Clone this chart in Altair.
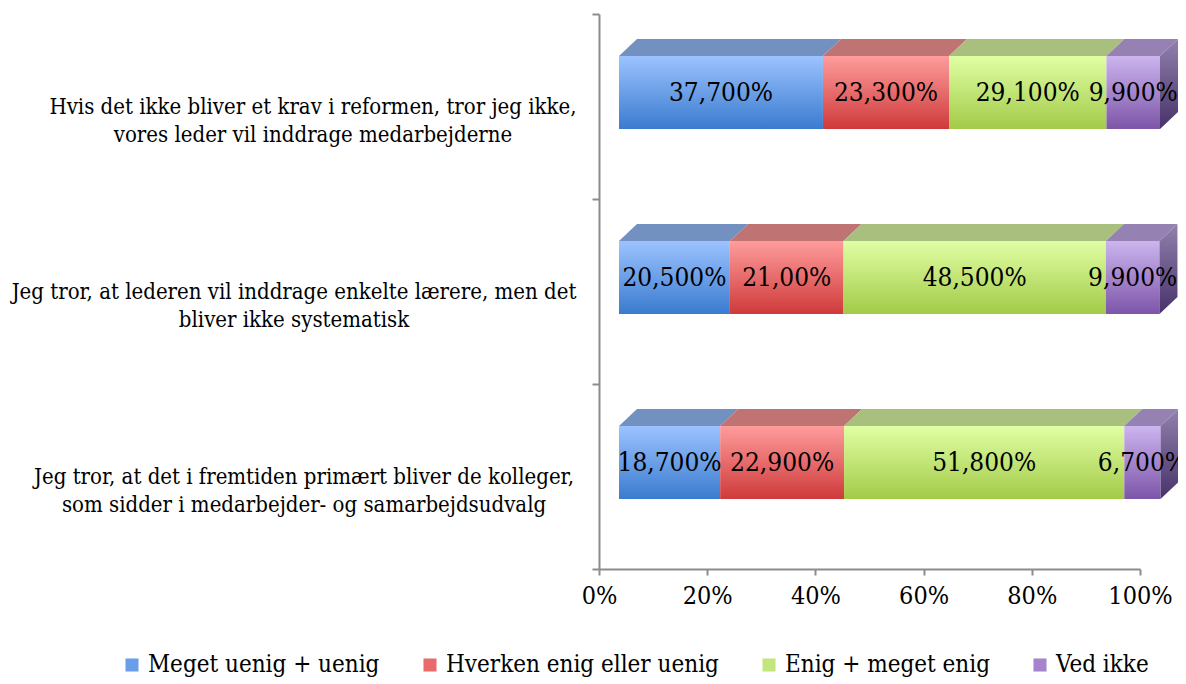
import altair as alt
import pandas as pd

# ---------------- data ----------------
questions = [
    "Hvis det ikke bliver et krav i reformen, tror jeg ikke,\nvores leder vil inddrage medarbejderne",
    "Jeg tror, at lederen vil inddrage enkelte lærere, men det\nbliver ikke systematisk",
    "Jeg tror, at det i fremtiden primært bliver de kolleger,\nsom sidder i medarbejder- og samarbejdsudvalg",
]
series = ["Meget uenig + uenig", "Hverken enig eller uenig", "Enig + meget enig", "Ved ikke"]
meget_uenig = [37.7, 20.5, 18.7]
hverken = [23.3, 21.0, 22.9]
enig = [29.1, 48.5, 51.8]
ved_ikke = [9.9, 9.9, 6.7]
lab_meget_uenig = ["37,700%", "20,500%", "18,700%"]
lab_hverken = ["23,300%", "21,00%", "22,900%"]
lab_enig = ["29,100%", "48,500%", "51,800%"]
lab_ved_ikke = ["9,900%", "9,900%", "6,700%"]
x_ticks = [0, 20, 40, 60, 80, 100]

# ---------------- style / layout ----------------
FONT = "DejaVu Serif Condensed, DejaVu Serif, serif"
W, H = 541, 555
front_top = ["#9cc3ff", "#ff9c9c", "#e0ffa4", "#ccb5ef"]
front_bot = ["#3a7bcf", "#cf3a3a", "#a3ca48", "#7d55a9"]
top_cols = ["#7391c0", "#c07373", "#a8bf7d", "#9582b2"]
legend_cols = ["#6a9ee8", "#e86a6a", "#c2e67c", "#a584cd"]
side_top, side_bot = "#9280ae", "#47336a"
label_centers = [-286, -305, -295]  # px, relative to plot left

SHIFT_X, SHIFT_Y = 20, 14      # front face offset (px)
FACE_H = 73                    # front face height (px)
DX, DY = 18, 17                # 3D depth (px)
px_x = 100 / W
px_y = 3 / H

vals = [meget_uenig, hverken, enig, ved_ikke]
labs = [lab_meget_uenig, lab_hverken, lab_enig, lab_ved_ikke]

front_rows, top_rows, side_rows, text_rows = [], [], [], []
n = len(questions)
for i in range(n):
    c = n - i - 0.5
    yb = c - FACE_H / 2 * px_y + SHIFT_Y * px_y
    yt = c + FACE_H / 2 * px_y + SHIFT_Y * px_y
    cum = 0.0
    for k, s in enumerate(series):
        v = vals[k][i]
        x0 = cum + SHIFT_X * px_x
        x1 = cum + v + SHIFT_X * px_x
        front_rows.append(dict(series=s, x0=x0, x1=x1, yb=yb, yt=yt))
        seg = f"{i}-{k}"
        dx, dy = DX * px_x, DY * px_y
        for (xx, ya, yb2) in [(x0, yt, yt), (x0 + dx, yt + dy, yt), (x1, yt + dy, yt), (x1 + dx, yt + dy, yt + dy)]:
            top_rows.append(dict(seg=seg, x=xx, y=ya, y2=yb2, col=top_cols[k]))
        if k == len(series) - 1:
            for (xx, ya, yb2) in [(x1, yt, yb), (x1 + dx, yt + dy, yb + dy)]:
                side_rows.append(dict(seg=seg, x=xx, y=ya, y2=yb2))
        text_rows.append(dict(x=(x0 + x1) / 2, y=(yb + yt) / 2, label=labs[k][i]))
        cum += v

front_df = pd.DataFrame(front_rows)
top_df = pd.DataFrame(top_rows)
side_df = pd.DataFrame(side_rows)
text_df = pd.DataFrame(text_rows)


def grad(top, bot):
    return {"gradient": "linear", "x1": 0, "y1": 0, "x2": 0, "y2": 1,
            "stops": [{"offset": 0, "color": top}, {"offset": 1, "color": bot}]}


xs = alt.Scale(domain=[0, 100], nice=False, zero=False)
ys = alt.Scale(domain=[0, 3], nice=False, zero=False)
x_axis = alt.Axis(values=x_ticks, labelExpr="datum.value + '%'", title=None, grid=False,
                  domainColor="#8c8c8c", domainWidth=2, tickColor="#8c8c8c", tickWidth=2,
                  tickSize=6, labelFont=FONT, labelFontSize=25, labelColor="black",
                  labelPadding=8, labelFlush=False)
y_axis = alt.Axis(values=[0, 1, 2, 3], labels=False, title=None, grid=False,
                  domainColor="#8c8c8c", domainWidth=2, tickColor="#8c8c8c", tickWidth=2,
                  tickSize=7)

layers = []
for k, s in enumerate(series):
    layers.append(
        alt.Chart(front_df[front_df.series == s]).mark_rect(fill=grad(front_top[k], front_bot[k]), clip=False)
        .encode(x=alt.X("x0:Q", scale=xs, axis=x_axis), x2="x1:Q",
                y=alt.Y("yb:Q", scale=ys, axis=y_axis), y2="yt:Q")
    )

layers.append(
    alt.Chart(top_df).mark_area(orient="vertical", clip=False)
    .encode(x=alt.X("x:Q", scale=xs, axis=x_axis), y=alt.Y("y:Q", scale=ys, axis=y_axis), y2="y2:Q",
            detail="seg:N", fill=alt.Fill("col:N", scale=None))
)
layers.append(
    alt.Chart(side_df).mark_area(orient="vertical", clip=False, fill=grad(side_top, side_bot))
    .encode(x=alt.X("x:Q", scale=xs, axis=x_axis), y=alt.Y("y:Q", scale=ys, axis=y_axis), y2="y2:Q",
            detail="seg:N")
)
layers.append(
    alt.Chart(text_df).mark_text(font=FONT, fontSize=26, color="black", align="center", baseline="middle", clip=False)
    .encode(x=alt.X("x:Q", scale=xs, axis=x_axis), y=alt.Y("y:Q", scale=ys, axis=y_axis), text="label:N")
)
for i, q in enumerate(questions):
    qdf = pd.DataFrame({"q": [q], "c": [n - i - 0.5]})
    layers.append(
        alt.Chart(qdf).mark_text(font=FONT, fontSize=22, color="black", align="center", baseline="middle",
                                 lineBreak="\n", lineHeight=28)
        .encode(x=alt.value(label_centers[i]), y=alt.Y("c:Q", scale=ys, axis=y_axis), text="q:N")
    )

legend_df = pd.DataFrame({"series": series, "x": [0] * 4, "y": [0] * 4})
layers.append(
    alt.Chart(legend_df).mark_square(opacity=0, size=1)
    .encode(x=alt.X("x:Q", scale=xs, axis=x_axis), y=alt.Y("y:Q", scale=ys, axis=y_axis),
            color=alt.Color("series:N", scale=alt.Scale(domain=series, range=legend_cols),
                            legend=alt.Legend(orient="none", legendX=-479, legendY=639, direction="horizontal",
                                              title=None, symbolType="square", symbolSize=170,
                                              symbolOpacity=1, symbolStrokeWidth=0, labelFont=FONT,
                                              labelFontSize=24, labelColor="black", columnPadding=38,
                                              labelOffset=4, labelLimit=0)))
)

chart = alt.layer(*layers).properties(
    width=W, height=H, autosize=alt.AutoSizeParams(type="none"),
    padding={"left": 591, "top": 6, "right": 38, "bottom": 116},
).configure_view(stroke=None)

chart.save("out.html", embed_options={"renderer": "svg", "actions": False})
